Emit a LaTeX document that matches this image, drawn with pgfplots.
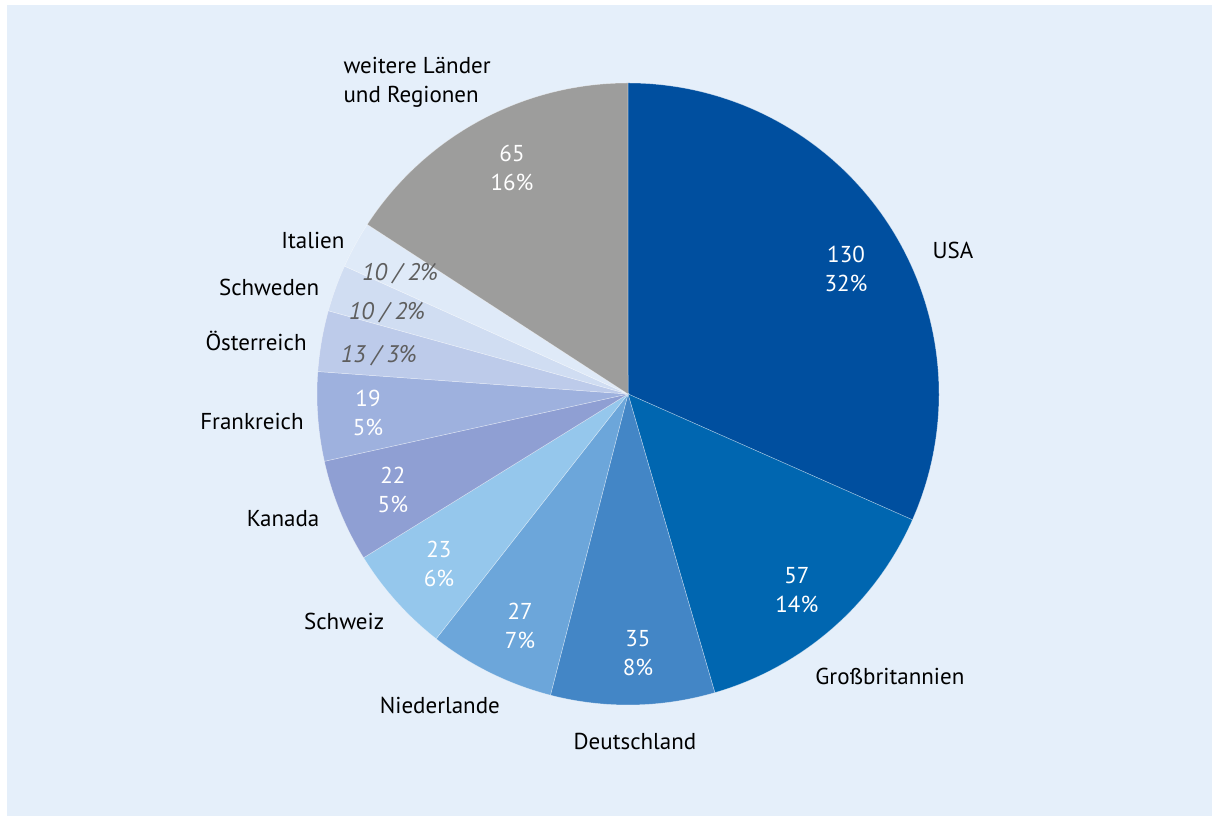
\documentclass[border=0pt]{standalone}
\usepackage{fontspec}
\setmainfont{PT Sans}
\usepackage{pgfplots}
\usepackage{pgfplotstable}
\pgfplotsset{compat=1.18}
\definecolor{bg}{HTML}{E5EFFA}
\definecolor{cUSA}{HTML}{004F9F}
\definecolor{cGB}{HTML}{0066B0}
\definecolor{cDE}{HTML}{4386C6}
\definecolor{cNL}{HTML}{6CA6DA}
\definecolor{cCH}{HTML}{95C7EC}
\definecolor{cCA}{HTML}{8F9FD3}
\definecolor{cFR}{HTML}{9EB1DE}
\definecolor{cAT}{HTML}{BDCBEA}
\definecolor{cSE}{HTML}{D0DDF2}
\definecolor{cIT}{HTML}{DFEAF8}
\definecolor{cRest}{HTML}{9D9D9C}
\definecolor{smalltxt}{HTML}{5E5E5E}

\pgfplotstableread{
name value color
USA 130 cUSA
GB 57 cGB
DE 35 cDE
NL 27 cNL
CH 23 cCH
CA 22 cCA
FR 19 cFR
AT 13 cAT
SE 10 cSE
IT 10 cIT
Rest 65 cRest
}\piedata

\pgfplotstablegetrowsof{\piedata}
\pgfmathtruncatemacro{\lastrow}{\pgfplotsretval-1}
\gdef\pietotal{0}
\pgfplotsforeachungrouped \i in {0,...,\lastrow}{%
  \pgfplotstablegetelem{\i}{value}\of\piedata
  \pgfmathsetmacro{\tmpsum}{\pietotal+\pgfplotsretval}%
  \global\let\pietotal\tmpsum
}

\newcommand{\pieR}{155.5pt}
\gdef\piestart{90}
\newcommand{\pieslice}[2]{%
  \pgfmathsetmacro{\pieend}{\piestart-#1/\pietotal*360}%
  \edef\temp{\noexpand\fill[#2, draw=white, draw opacity=0.45, line width=0.25pt]
    (axis cs:0,0) -- (axis cs:{cos(\piestart)},{sin(\piestart)})
    arc[start angle=\piestart, end angle=\pieend, radius=\pieR] -- cycle;}%
  \temp
  \global\let\piestart\pieend
}

\begin{document}
\begin{tikzpicture}
\begin{axis}[
  x=155.5pt, y=155.5pt,
  scale only axis,
  xmin=-2.01929, xmax=1.87781,
  ymin=-1.35691, ymax=1.26688,
  hide axis,
  clip=false,
]
\fill[white] (axis cs:-2.01929,-1.35691) rectangle (axis cs:1.87781,1.26688);
\fill[bg] (axis cs:-1.997,-1.35691) rectangle (axis cs:1.87781,1.2508);

\pgfplotsforeachungrouped \i in {0,...,\lastrow}{%
  \pgfplotstablegetelem{\i}{value}\of\piedata \let\pv\pgfplotsretval
  \pgfplotstablegetelem{\i}{color}\of\piedata \let\pc\pgfplotsretval
  \pieslice{\pv}{\pc}%
}

\tikzset{lab/.style={font=\fontsize{11.5}{14.5}\selectfont, text=black, inner sep=0pt},
         inl/.style={font=\fontsize{11.5}{14.5}\selectfont, text=white, align=center, inner sep=0pt},
         sml/.style={font=\fontsize{12}{14.5}\selectfont\itshape, text=smalltxt, inner sep=0pt}}

% outer labels
\node[lab] at (axis cs:1.045,0.463) {USA};
\node[lab] at (axis cs:0.842,-0.907) {Großbritannien};
\node[lab] at (axis cs:0.0225,-1.116) {Deutschland};
\node[lab] at (axis cs:-0.605,-1.000) {Niederlande};
\node[lab] at (axis cs:-0.913,-0.730) {Schweiz};
\node[lab] at (axis cs:-1.109,-0.402) {Kanada};
\node[lab] at (axis cs:-1.209,-0.087) {Frankreich};
\node[lab] at (axis cs:-1.196,0.170) {Österreich};
\node[lab] at (axis cs:-1.154,0.344) {Schweden};
\node[lab] at (axis cs:-1.013,0.495) {Italien};
\node[lab, anchor=west, align=left] at (axis cs:-0.916,1.003) {weitere Länder\\und Regionen};

% inner labels
\node[inl] at (axis cs:0.701,0.402) {130\\32\%};
\node[inl] at (axis cs:0.543,-0.630) {57\\14\%};
\node[inl] at (axis cs:0.032,-0.833) {35\\8\%};
\node[inl] at (axis cs:-0.347,-0.746) {27\\7\%};
\node[inl] at (axis cs:-0.608,-0.547) {23\\6\%};
\node[inl] at (axis cs:-0.756,-0.309) {22\\5\%};
\node[inl] at (axis cs:-0.836,-0.061) {19\\5\%};
\node[sml] at (axis cs:-0.801,0.122) {13 / 3\%};
\node[sml] at (axis cs:-0.775,0.260) {10 / 2\%};
\node[sml] at (axis cs:-0.733,0.386) {10 / 2\%};
\node[inl] at (axis cs:-0.373,0.727) {65\\16\%};
\end{axis}
\end{tikzpicture}
\end{document}
